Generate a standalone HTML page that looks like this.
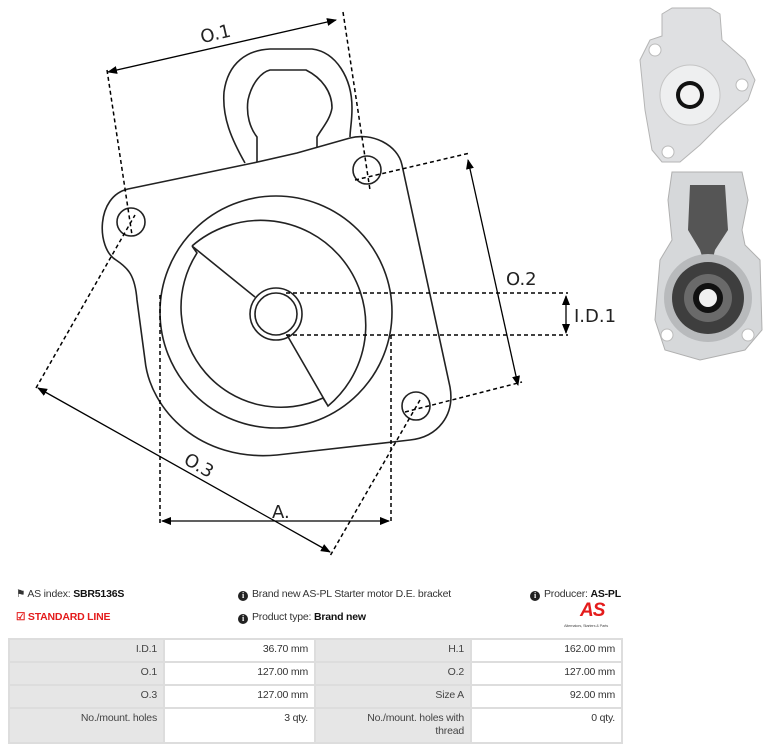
<!DOCTYPE html>
<html><head><meta charset="utf-8"><style>
body{margin:0;width:769px;height:749px;background:#fff;overflow:hidden;position:relative;font-family:"Liberation Sans",sans-serif;color:#333}
.t{position:absolute;font-size:10.5px;white-space:nowrap;letter-spacing:-0.2px}
b{color:#111}
table{position:absolute;left:8px;top:638px;border-collapse:collapse;font-size:10.5px;table-layout:fixed;width:615px;letter-spacing:-0.2px}
td{border:2px solid #ddd;text-align:right;padding:3px 6px 3px 4px;height:15px;vertical-align:top;line-height:13px}
td.h{background:#e6e6e6;color:#444}
.i{display:inline-block;width:10px;height:10px;border-radius:50%;background:#222;color:#fff;font-size:8px;text-align:center;line-height:10px;font-weight:bold;vertical-align:-1px;margin-right:4px;font-family:"Liberation Serif",serif}
</style></head><body>
<svg width="769" height="580" style="position:absolute;left:0;top:0" font-family="DejaVu Sans, sans-serif">
<defs><marker id="a" markerWidth="10" markerHeight="8" refX="9" refY="4" orient="auto-start-reverse" markerUnits="userSpaceOnUse"><path d="M0,0L10,4L0,8z" fill="#000"/></marker></defs>
<g fill="none" stroke="#222" stroke-width="1.6">
<path d="M245,163 C232,140 222,118 224,92 C228,62 248,50 270,49 L312,49 C336,52 352,78 352,108 C352,122 350,130 350,137"/>
<path d="M257,162 L257,137 C250,128 246,115 248,100 C252,82 262,72 270,70 L306,70 C322,78 332,92 332,108 C330,120 322,128 317,137 L317,147"/>
<path d="M128,189 L253,163 L297,153 L350,138 C372,132 398,145 402,165 L450,387 C455,415 438,437 410,440 L277,455 C200,462 150,410 145,360 L137,300 C135,275 128,268 116,260 C96,248 96,196 128,189 Z"/>
<circle cx="367" cy="170" r="14"/><circle cx="131" cy="222" r="14"/><circle cx="416" cy="406" r="14"/>
<circle cx="276" cy="312" r="116"/>
<circle cx="276" cy="314" r="26"/><circle cx="276" cy="314" r="21"/>
<path d="M192,246 A105,105 0 1 1 328,406 L287,335 M192,246 L255,297 M192,246 L197,253 A100,100 0 0 0 323,398 L328,406"/>
</g>
<g fill="none" stroke="#000" stroke-width="1.5" stroke-dasharray="4,3">
<path d="M107,70 L132,235"/><path d="M343,12 L370,190"/>
<path d="M355,180 L470,153"/><path d="M405,412 L522,382"/>
<path d="M36,388 L135,215"/><path d="M420,400 L330,556"/>
<path d="M286,293 L568,293"/><path d="M286,335 L568,335"/>
<path d="M160,295 L160,523"/><path d="M391,335 L391,523"/>
</g>
<g stroke="#000" stroke-width="1.3" marker-start="url(#a)" marker-end="url(#a)">
<line x1="108" y1="72" x2="336" y2="20"/>
<line x1="468" y1="160" x2="518" y2="385"/>
<line x1="38" y1="388" x2="330" y2="552"/>
<line x1="162" y1="521" x2="389" y2="521"/>
<line x1="566" y1="296" x2="566" y2="333"/>
</g>
<g font-size="18" fill="#222">
<text x="200" y="40" transform="rotate(-13 215 33)">O.1</text>
<text x="506" y="285">O.2</text>
<text x="184" y="472" transform="rotate(30 200 465)">O.3</text>
<text x="272" y="518">A.</text>
<text x="574" y="322">I.D.1</text>
</g>
<g>
<path d="M662,14 L672,8 L710,8 L720,14 L722,40 L745,60 L755,80 L748,100 L720,125 L700,145 L680,162 L662,162 L652,150 L645,110 L640,60 L650,40 L662,36Z" fill="#dfe0e2" stroke="#b5b5b5"/>
<circle cx="690" cy="95" r="30" fill="#eeeff0" stroke="#c5c5c5"/>
<circle cx="690" cy="95" r="14" fill="#111"/><circle cx="690" cy="95" r="10" fill="#f2f2f2"/>
<circle cx="655" cy="50" r="6" fill="#fff" stroke="#bbb"/><circle cx="742" cy="85" r="6" fill="#fff" stroke="#bbb"/><circle cx="668" cy="152" r="6" fill="#fff" stroke="#bbb"/>
<path d="M672,172 L742,172 L748,200 L742,230 L745,245 L760,260 L762,330 L745,350 L700,360 L665,350 L655,320 L660,260 L672,240 L668,200Z" fill="#d6d8da" stroke="#b0b0b0"/>
<path d="M690,185 L725,185 L728,230 L715,250 L712,262 L704,262 L700,250 L688,230Z" fill="#555"/>
<circle cx="708" cy="298" r="44" fill="#b8babc"/>
<circle cx="708" cy="298" r="36" fill="#3e3e3e"/><circle cx="708" cy="298" r="24" fill="#6a6a6a"/>
<circle cx="708" cy="298" r="15" fill="#111"/><circle cx="708" cy="298" r="9" fill="#f0f0f0"/>
<circle cx="667" cy="335" r="6" fill="#fff" stroke="#bbb"/><circle cx="748" cy="335" r="6" fill="#fff" stroke="#bbb"/>
</g>
</svg>
<div class="t" style="left:16px;top:588px">&#9873; AS index: <b>SBR5136S</b></div>
<div class="t" style="left:238px;top:588px"><span class="i">i</span>Brand new AS-PL Starter motor D.E. bracket</div>
<div class="t" style="left:530px;top:588px"><span class="i">i</span>Producer: <b>AS-PL</b></div>
<div class="t" style="left:16px;top:611px;color:#e41b1b;font-weight:bold">&#9745; STANDARD LINE</div>
<div class="t" style="left:238px;top:611px"><span class="i">i</span>Product type: <b>Brand new</b></div>
<div class="t" style="left:580px;top:600px;color:#e41b1b;font-weight:bold;font-style:italic;font-size:19px;letter-spacing:-1px">AS</div>
<div class="t" style="left:564px;top:623px;font-size:4px;color:#555">Alternators, Starters &amp; Parts</div>
<table>
<tr><td class="h" style="width:143px">I.D.1</td><td style="width:139px">36.70 mm</td><td class="h" style="width:144px">H.1</td><td>162.00 mm</td></tr>
<tr><td class="h">O.1</td><td>127.00 mm</td><td class="h">O.2</td><td>127.00 mm</td></tr>
<tr><td class="h">O.3</td><td>127.00 mm</td><td class="h">Size A</td><td>92.00 mm</td></tr>
<tr><td class="h" style="height:27px">No./mount. holes</td><td>3 qty.</td><td class="h">No./mount. holes with<br>thread</td><td>0 qty.</td></tr>
</table>
</body></html>
